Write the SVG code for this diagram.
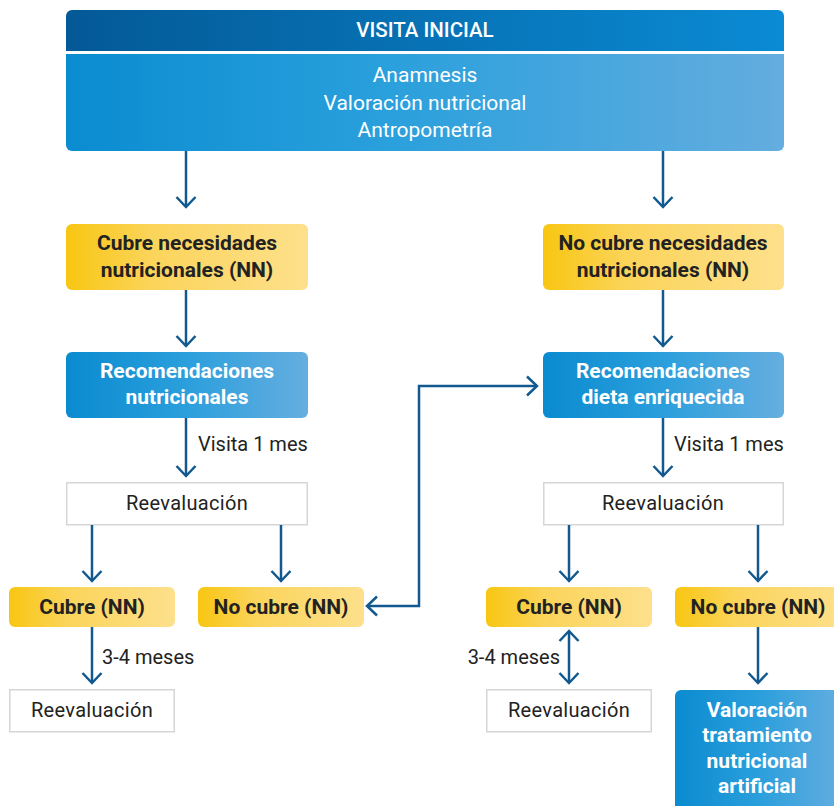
<svg xmlns="http://www.w3.org/2000/svg" width="834" height="806" viewBox="0 0 834 806">
  <style>
    text { font-family: Roboto, "Liberation Sans", sans-serif; text-anchor: middle; }
    .hdr { fill: #ffffff; font-size: 20.5px; font-weight: 500; }
    .body { fill: #ffffff; font-size: 21px; }
    .yel { fill: #222222; font-size: 21px; font-weight: 700; }
    .blu { fill: #ffffff; font-size: 21px; font-weight: 700; }
    .plain { fill: #222222; font-size: 20px; letter-spacing: 0.3px; }
    .lbl { fill: #222222; font-size: 20px; }
    .wbox { fill: #ffffff; stroke: #d6d6d6; stroke-width: 1.5; }
    .conn { fill: none; stroke: #11598f; stroke-width: 2.5; marker-end: url(#chev); }
    .both { marker-start: url(#chev); }
  </style>
  <defs>
    <linearGradient id="gHead" x1="0" y1="0" x2="1" y2="0">
      <stop offset="0" stop-color="#045996"/>
      <stop offset="1" stop-color="#0a8bd4"/>
    </linearGradient>
    <linearGradient id="gBody" x1="0" y1="0" x2="1" y2="0">
      <stop offset="0" stop-color="#0a8cd1"/>
      <stop offset="0.45" stop-color="#2aa0dc"/>
      <stop offset="1" stop-color="#64addf"/>
    </linearGradient>
    <linearGradient id="gYel" x1="0" y1="0" x2="1" y2="0">
      <stop offset="0" stop-color="#f8c612"/>
      <stop offset="0.35" stop-color="#fbd45a"/>
      <stop offset="1" stop-color="#fde08c"/>
    </linearGradient>
    <linearGradient id="gBlu" x1="0" y1="0" x2="1" y2="0">
      <stop offset="0" stop-color="#0a8bd0"/>
      <stop offset="0.5" stop-color="#2b9fdc"/>
      <stop offset="1" stop-color="#66aee0"/>
    </linearGradient>
    <clipPath id="cHead">
      <rect x="66" y="10" width="718" height="141" rx="6"/>
    </clipPath>
    <marker id="chev" markerUnits="userSpaceOnUse" viewBox="-14 -12 16 24" refX="0" refY="0" markerWidth="16" markerHeight="24" orient="auto-start-reverse">
      <path d="M-10,-9.5 L0,0 L-10,9.5" fill="none" stroke="#11598f" stroke-width="2.5"/>
    </marker>
  </defs>

  <!-- initial visit header -->
  <g id="visita-inicial">
    <g clip-path="url(#cHead)">
      <rect x="66" y="10" width="718" height="41" fill="url(#gHead)"/>
      <rect x="66" y="54" width="718" height="97" fill="url(#gBody)"/>
    </g>
    <text class="hdr" x="425" y="37">VISITA INICIAL</text>
    <text class="body" x="425" y="82">Anamnesis</text>
    <text class="body" x="425" y="110">Valoración nutricional</text>
    <text class="body" x="425" y="137">Antropometría</text>
  </g>

  <!-- left branch -->
  <g id="cubre-nn">
    <rect x="66" y="224" width="242" height="66" rx="6" fill="url(#gYel)"/>
    <text class="yel" x="187" y="250">Cubre necesidades</text>
    <text class="yel" x="187" y="277">nutricionales (NN)</text>
  </g>
  <g id="recomendaciones-nutricionales">
    <rect x="66" y="352" width="242" height="66" rx="6" fill="url(#gBlu)"/>
    <text class="blu" x="187" y="378">Recomendaciones</text>
    <text class="blu" x="187" y="404">nutricionales</text>
  </g>
  <g id="reevaluacion-izq">
    <rect class="wbox" x="66.75" y="482.75" width="240.5" height="42"/>
    <text class="plain" x="187" y="510">Reevaluación</text>
  </g>
  <g id="cubre-izq">
    <rect x="9" y="587" width="166" height="40" rx="6" fill="url(#gYel)"/>
    <text class="yel" x="92" y="614">Cubre (NN)</text>
  </g>
  <g id="no-cubre-izq">
    <rect x="198" y="587" width="166" height="40" rx="6" fill="url(#gYel)"/>
    <text class="yel" x="281" y="614">No cubre (NN)</text>
  </g>
  <g id="reevaluacion-izq-2">
    <rect class="wbox" x="9.75" y="689.75" width="164.5" height="42"/>
    <text class="plain" x="92" y="717">Reevaluación</text>
  </g>

  <!-- right branch -->
  <g id="no-cubre-nn">
    <rect x="543" y="224" width="241" height="66" rx="6" fill="url(#gYel)"/>
    <text class="yel" x="663" y="250">No cubre necesidades</text>
    <text class="yel" x="663" y="277">nutricionales (NN)</text>
  </g>
  <g id="recomendaciones-dieta">
    <rect x="543" y="352" width="241" height="66" rx="6" fill="url(#gBlu)"/>
    <text class="blu" x="663" y="378">Recomendaciones</text>
    <text class="blu" x="663" y="404">dieta enriquecida</text>
  </g>
  <g id="reevaluacion-der">
    <rect class="wbox" x="543.75" y="482.75" width="239.5" height="42"/>
    <text class="plain" x="663" y="510">Reevaluación</text>
  </g>
  <g id="cubre-der">
    <rect x="486" y="587" width="166" height="40" rx="6" fill="url(#gYel)"/>
    <text class="yel" x="569" y="614">Cubre (NN)</text>
  </g>
  <g id="no-cubre-der">
    <rect x="675" y="587" width="170" height="40" rx="6" fill="url(#gYel)"/>
    <text class="yel" x="758" y="614">No cubre (NN)</text>
  </g>
  <g id="reevaluacion-der-2">
    <rect class="wbox" x="486.75" y="689.75" width="164.5" height="42"/>
    <text class="plain" x="569" y="717">Reevaluación</text>
  </g>
  <g id="valoracion-tratamiento">
    <rect x="675" y="690" width="170" height="130" rx="6" fill="url(#gBlu)"/>
    <text class="blu" x="757" y="717">Valoración</text>
    <text class="blu" x="757" y="742">tratamiento</text>
    <text class="blu" x="757" y="768">nutricional</text>
    <text class="blu" x="757" y="793">artificial</text>
  </g>

  <!-- connectors -->
  <g id="connectors">
    <path class="conn" d="M186,151 V207"/>
    <path class="conn" d="M663,151 V207"/>
    <path class="conn" d="M186,290 V346"/>
    <path class="conn" d="M663,290 V346"/>
    <path class="conn" d="M186,418 V476"/>
    <path class="conn" d="M663,418 V476"/>
    <path class="conn" d="M92,525 V581"/>
    <path class="conn" d="M281,525 V581"/>
    <path class="conn" d="M569,525 V581"/>
    <path class="conn" d="M758,525 V581"/>
    <path class="conn" d="M92,627 V683"/>
    <path class="conn both" d="M569,631 V683"/>
    <path class="conn" d="M758,627 V683"/>
    <path class="conn both" d="M367,606 H419 V386 H537"/>
    <text class="lbl" x="198" y="451" style="text-anchor:start">Visita 1 mes</text>
    <text class="lbl" x="674" y="451" style="text-anchor:start">Visita 1 mes</text>
    <text class="lbl" x="102" y="664" style="text-anchor:start">3-4 meses</text>
    <text class="lbl" x="560" y="664" style="text-anchor:end">3-4 meses</text>
  </g>
</svg>
